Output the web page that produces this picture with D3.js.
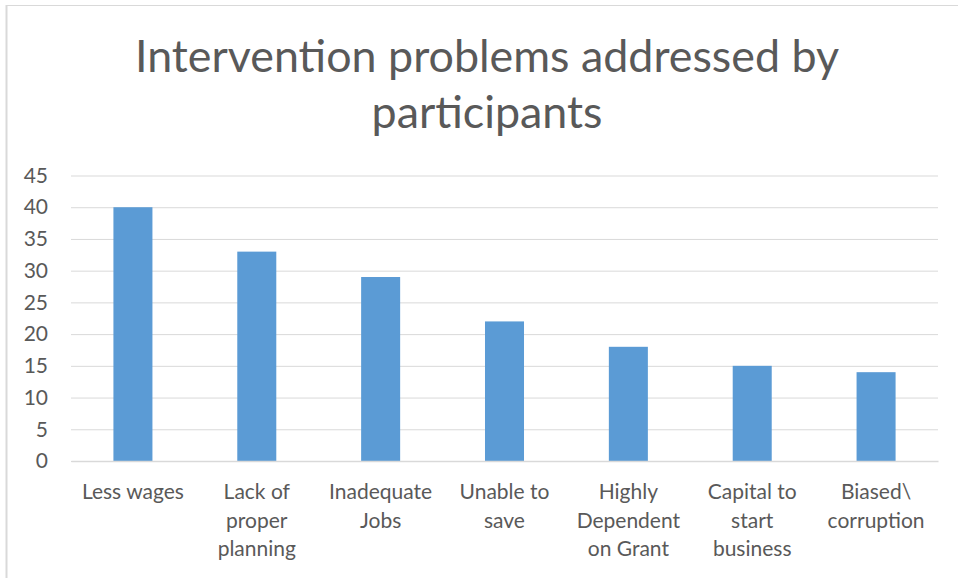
<!DOCTYPE html>
<html>
<head>
<meta charset="utf-8">
<script src="https://cdn.jsdelivr.net/npm/d3@7"></script>
<style>
  html, body { margin: 0; padding: 0; background: #fff; }
  svg { display: block; }
  text { font-family: Lato, "Open Sans", sans-serif; fill: #595959; }
</style>
</head>
<body>
<svg id="chart" width="958" height="578"></svg>
<script>
// Chart data
const categories = [
  "Less wages",
  "Lack of\nproper\nplanning",
  "Inadequate\nJobs",
  "Unable to\nsave",
  "Highly\nDependent\non Grant",
  "Capital to\nstart\nbusiness",
  "Biased\\\ncorruption"
];
const values = [40, 33, 29, 22, 18, 15, 14];
const yTicks = [0, 5, 10, 15, 20, 25, 30, 35, 40, 45];
const titleLines = ["Intervention problems addressed by", "participants"];

const svg = d3.select("#chart");
const W = 958, H = 578;
const plot = { left: 71, right: 938, top: 175.5, bottom: 461 };

// Frame lines around the chart area
svg.append("line").attr("x1", 6.5).attr("x2", 6.5).attr("y1", 5).attr("y2", H)
  .attr("stroke", "#d9d9d9").attr("stroke-width", 2);
svg.append("line").attr("x1", 6).attr("x2", W).attr("y1", 5.5).attr("y2", 5.5)
  .attr("stroke", "#d9d9d9").attr("stroke-width", 1);

// Title
svg.append("text")
  .attr("text-anchor", "middle")
  .attr("font-size", 44.8)
  .selectAll("tspan").data(titleLines).join("tspan")
  .attr("x", 487)
  .attr("y", (d, i) => 72 + i * 56)
  .text(d => d);

const x = d3.scaleBand()
  .domain(categories)
  .range([plot.left, plot.right])
  .paddingInner(0.685)
  .paddingOuter(0.3425);

const y = d3.scaleLinear()
  .domain([0, 45])
  .range([plot.bottom, plot.top]);

// Gridlines and value axis labels
const yAxis = d3.axisLeft(y)
  .tickValues(yTicks)
  .tickSize(-(plot.right - plot.left))
  .tickPadding(23);
const yg = svg.append("g")
  .attr("transform", `translate(${plot.left},0)`)
  .call(yAxis);
yg.select(".domain").remove();
yg.selectAll(".tick line").attr("stroke", "#d9d9d9").attr("stroke-width", 1);
yg.selectAll(".tick text")
  .attr("font-size", 21)
  .attr("font-family", "Lato, sans-serif")
  .attr("fill", "#595959");

// Bars
svg.append("g").selectAll("rect").data(values).join("rect")
  .attr("x", (d, i) => x(categories[i]))
  .attr("width", x.bandwidth())
  .attr("y", d => y(d))
  .attr("height", d => y(0) - y(d))
  .attr("fill", "#5b9bd5");

// Category axis
const xAxis = d3.axisBottom(x).tickSize(0).tickFormat("");
const xg = svg.append("g")
  .attr("transform", `translate(0,${plot.bottom})`)
  .call(xAxis);
xg.select(".domain").attr("stroke", "#d9d9d9").attr("stroke-width", 1.5);

const labels = svg.append("g").selectAll("text").data(categories).join("text")
  .attr("text-anchor", "middle")
  .attr("font-size", 21);
labels.each(function(d) {
  const cx = x(d) + x.bandwidth() / 2;
  d3.select(this).selectAll("tspan").data(d.split("\n")).join("tspan")
    .attr("x", cx)
    .attr("y", (t, i) => 499 + i * 28.5)
    .text(t => t);
});
</script>
</body>
</html>
